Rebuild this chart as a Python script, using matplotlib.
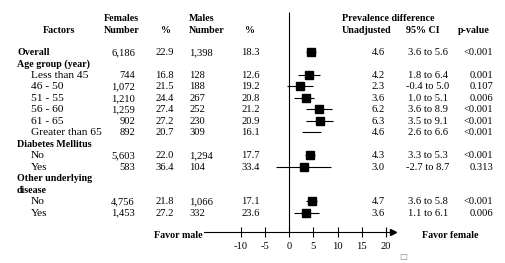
import matplotlib.pyplot as plt

plt.rcParams['font.family'] = ['Liberation Serif', 'DejaVu Serif']
plt.rcParams['font.size'] = 7.6

# Data tabel
labels = ['Overall', 'Age group (year)', 'Less than 45', '46 - 50', '51 - 55', '56 - 60',
          '61 - 65', 'Greater than 65', 'Diabetes Mellitus', 'No', 'Yes',
          'Other underlying', 'disease', 'No', 'Yes']
is_header = [True, True, False, False, False, False, False, False, True, False, False,
             True, True, False, False]
female_n = ['6,186', '', '744', '1,072', '1,210', '1,259', '902', '892', '', '5,603', '583',
            '', '', '4,756', '1,453']
female_pct = ['22.9', '', '16.8', '21.5', '24.4', '27.4', '27.2', '20.7', '', '22.0', '36.4',
              '', '', '21.8', '27.2']
male_n = ['1,398', '', '128', '188', '267', '252', '230', '309', '', '1,294', '104',
          '', '', '1,066', '332']
male_pct = ['18.3', '', '12.6', '19.2', '20.8', '21.2', '20.9', '16.1', '', '17.7', '33.4',
            '', '', '17.1', '23.6']
pd_est = [4.6, None, 4.2, 2.3, 3.6, 6.2, 6.3, 4.6, None, 4.3, 3.0, None, None, 4.7, 3.6]
ci_lo = [3.6, None, 1.8, -0.4, 1.0, 3.6, 3.5, 2.6, None, 3.3, -2.7, None, None, 3.6, 1.1]
ci_hi = [5.6, None, 6.4, 5.0, 5.1, 8.9, 9.1, 6.6, None, 5.3, 8.7, None, None, 5.8, 6.1]
pvals = ['<0.001', '', '0.001', '0.107', '0.006', '<0.001', '<0.001', '<0.001', '',
         '<0.001', '0.313', '', '', '<0.001', '0.006']
no_box = [7]  # baris tanpa kotak
xticks = [-10, -5, 0, 5, 10, 15, 20]

W, H = 505, 263
y0, dy = 52.0, 11.48          # posisi baris pertama dan jarak baris (piksel)
x0, sx = 289.0, 4.85          # posisi nol dan skala sumbu (piksel)
ylim = ((H - y0) / dy, -y0 / dy)
row_of = lambda py: (py - y0) / dy
bl = 0.25                     # geser ke garis dasar teks
BOLD = 7.2

fig = plt.figure(figsize=(W / 100, H / 100), dpi=100)
fig.patch.set_facecolor('white')

# Sumbu teks (x dalam piksel, y dalam baris)
at = fig.add_axes([0, 0, 1, 1])
at.set_xlim(0, W)
at.set_ylim(*ylim)
at.axis('off')

# Sumbu forest plot
af = fig.add_axes([0, 0, 1, 1])
af.set_xlim(-x0 / sx, (W - x0) / sx)
af.set_ylim(*ylim)
af.patch.set_alpha(0)
for s in ['top', 'right', 'left']:
    af.spines[s].set_visible(False)
y_axis = row_of(232)
af.spines['bottom'].set_position(('data', y_axis))
af.spines['bottom'].set_bounds(-17.5, 21.5)
af.spines['bottom'].set_linewidth(0.8)
af.set_yticks([])
af.set_xticks(xticks)
af.set_xticklabels([str(t) for t in xticks])
af.tick_params(axis='x', direction='inout', length=7, width=0.8, pad=4, labelsize=7.6)
af.plot([21.5], [y_axis], marker='>', color='black', markersize=5, clip_on=False)
af.vlines(0, row_of(12), y_axis, color='black', lw=0.8)

for i in range(len(labels)):
    if pd_est[i] is None:
        continue
    af.hlines(i, ci_lo[i], ci_hi[i], color='black', lw=0.8)
    if i not in no_box:
        af.plot(pd_est[i], i, marker='s', color='black', markersize=5.5)

# Judul kolom
hdr = dict(fontweight='bold', va='baseline', fontsize=BOLD)
r1, r2 = row_of(18) + bl, row_of(30) + bl
at.text(59, r2, 'Factors', ha='center', **hdr)
at.text(104, r1, 'Females', ha='left', **hdr)
at.text(104, r2, 'Number', ha='left', **hdr)
at.text(166, r2, '%', ha='center', **hdr)
at.text(189, r1, 'Males', ha='left', **hdr)
at.text(189, r2, 'Number', ha='left', **hdr)
at.text(250, r2, '%', ha='center', **hdr)
at.text(342, r1, 'Prevalence difference', ha='left', **hdr)
at.text(342, r2, 'Unadjusted', ha='left', **hdr)
at.text(423, r2, '95% CI', ha='center', **hdr)
at.text(474, r2, 'p-value', ha='center', **hdr)

# Isi tabel
for i, lab in enumerate(labels):
    y = i + bl
    if is_header[i]:
        at.text(17, y, lab, ha='left', va='baseline', fontweight='bold', fontsize=BOLD)
    else:
        at.text(31, y, lab, ha='left', va='baseline', fontsize=8.2)
    at.text(135, y, female_n[i], ha='right', va='baseline')
    at.text(174, y, female_pct[i], ha='right', va='baseline')
    at.text(189, y, male_n[i], ha='left', va='baseline')
    at.text(260, y, male_pct[i], ha='right', va='baseline')
    if pd_est[i] is not None:
        at.text(378, y, f'{pd_est[i]:.1f}', ha='center', va='baseline')
        at.text(428, y, f'{ci_lo[i]:.1f} to {ci_hi[i]:.1f}', ha='center', va='baseline')
        at.text(493, y, pvals[i], ha='right', va='baseline')

at.text(203, row_of(235) + bl, 'Favor male', ha='right', va='baseline',
        fontweight='bold', fontsize=BOLD)
at.text(450, row_of(235) + bl, 'Favor female', ha='center', va='baseline',
        fontweight='bold', fontsize=BOLD)
at.text(403, row_of(256), '\u25a1', ha='center', va='center', fontsize=6, color='#888888',
        family='DejaVu Sans')

fig.savefig('out.png', dpi=100, facecolor='white')
